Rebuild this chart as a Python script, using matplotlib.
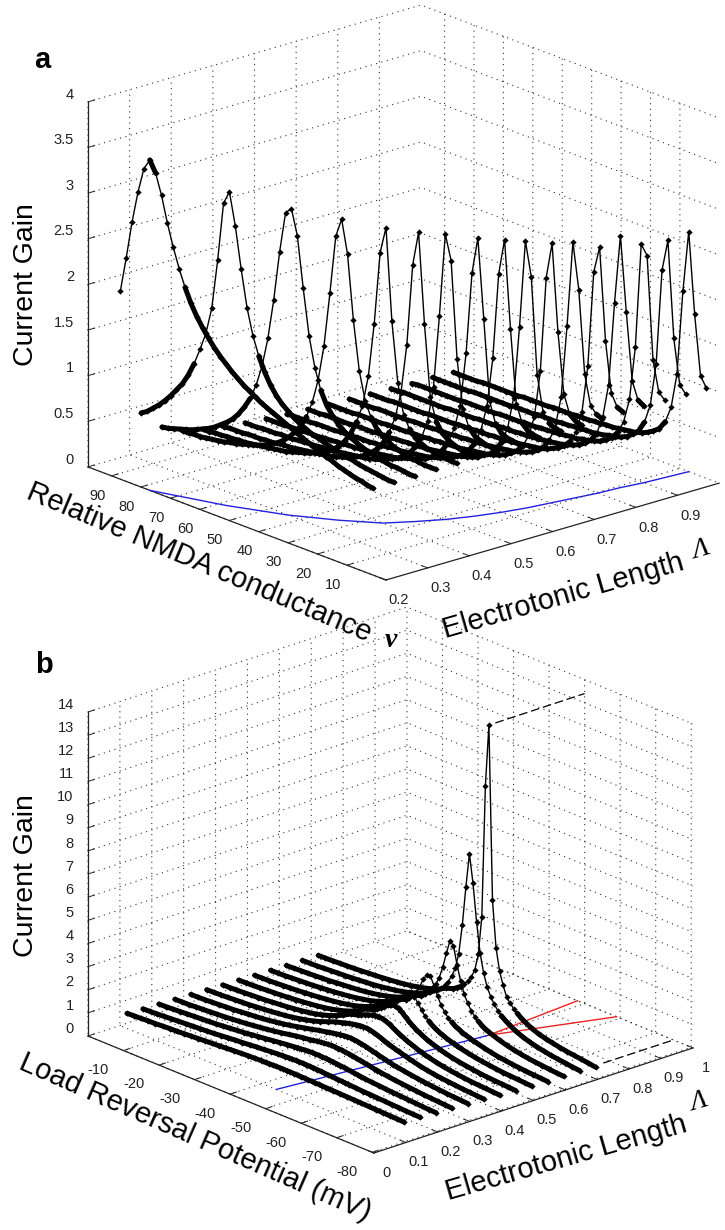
import numpy as np
import matplotlib
matplotlib.use('Agg')
import matplotlib.pyplot as plt
from mpl_toolkits.mplot3d import proj3d

plt.rcParams['font.family'] = ['Liberation Sans', 'DejaVu Sans']

W, H = 725, 1230

# panel a: gain against NMDA conductance, one row per electrotonic length
lambda_a = [0.2, 0.25, 0.3, 0.35, 0.4, 0.45, 0.5, 0.55, 0.6, 0.65, 0.7, 0.75, 0.8, 0.85, 0.9, 0.95, 1.0]
nu_a = [1, 3, 5, 7, 9, 11, 13, 15, 17, 19, 21, 23, 25, 27, 29, 31, 33, 35, 37, 39, 41, 43,
        45, 47, 49, 51, 53, 55, 57, 59, 61, 63, 65, 67, 69, 71, 73, 75, 77, 79, 81, 83, 85, 87]
gain_a = [
    [.95,.96,.98,.99,1.01,1.03,1.05,1.08,1.10,1.13,1.15,1.18,1.21,1.24,1.27,1.30,1.33,1.36,1.39,1.42,1.46,1.50,1.54,1.59,1.64,1.70,1.76,1.83,1.91,2.00,2.10,2.22,2.37,2.55,2.76,3.00,3.28,3.50,3.62,3.50,3.22,2.87,2.45,2.06],
    [.95,.95,.96,.97,.98,.99,1.00,1.02,1.03,1.05,1.06,1.08,1.10,1.12,1.14,1.17,1.20,1.24,1.29,1.34,1.41,1.50,1.62,1.77,1.97,2.25,2.65,3.10,3.45,3.30,2.65,2.10,1.80,1.60,1.42,1.27,1.15,1.06,.97,.89,.82,.76,.70,.66],
    [.95,.95,.96,.97,.97,.98,1.00,1.01,1.03,1.05,1.08,1.11,1.15,1.20,1.27,1.36,1.50,1.72,2.05,2.55,3.10,3.37,3.30,2.85,2.30,1.85,1.52,1.29,1.12,1.00,.90,.82,.76,.71,.66,.62,.59,.56,.53,.51,.49,.47,.45,.44],
    [.96,.96,.96,.97,.98,.99,1.01,1.03,1.06,1.10,1.16,1.26,1.42,1.72,2.25,2.95,3.31,3.10,2.45,1.85,1.45,1.18,1.00,.87,.78,.70,.64,.59,.55,.52,.49,.47,.45,.43,.41,.40,.38,.37,.36,.35,.34,.34,.33,.33],
    [.96,.96,.97,.98,.99,1.00,1.03,1.07,1.14,1.27,1.60,2.25,3.25,2.95,2.15,1.55,1.20,1.00,.85,.74,.66,.60,.55,.52,.49,.46,.44,.42,.40,.38,.37,.36,.35,.34,.33,.32,.31,.31,.30,.30,.29,.29,.28,.28],
    [.96,.96,.97,.98,1.00,1.03,1.08,1.18,1.42,2.20,3.18,2.80,1.90,1.35,1.05,.87,.73,.64,.57,.52,.48,.45,.42,.40,.38,.36,.35,.34,.33,.32,.31,.30,.29,.29,.28,.27,.27,.26,.26,.26,.25,.25,.25,.24],
    [.97,.97,.98,1.00,1.03,1.10,1.28,1.80,2.85,3.12,2.20,1.40,1.00,.80,.67,.58,.52,.47,.44,.41,.38,.36,.34,.33,.32,.31,.30,.29,.28,.27,.27,.26,.26,.25,.25,.24,.24,.24,.23,.23,.23,.22,.22,.22],
    [.97,.98,.99,1.02,1.10,1.32,2.20,3.06,2.65,1.75,1.15,.88,.70,.59,.52,.46,.42,.39,.37,.35,.33,.31,.30,.29,.28,.27,.26,.26,.25,.25,.24,.24,.23,.23,.22,.22,.22,.21,.21,.21,.20,.20,.20,.20],
    [.97,.98,1.00,1.06,1.25,2.05,3.00,2.60,1.65,1.10,.82,.65,.55,.48,.43,.39,.36,.34,.32,.30,.29,.28,.27,.26,.25,.25,.24,.23,.23,.22,.22,.22,.21,.21,.21,.20,.20,.20,.20,.19,.19,.19,.19,.18],
    [.98,.99,1.02,1.12,1.50,2.55,2.92,1.95,1.15,.80,.62,.51,.44,.40,.36,.33,.31,.29,.28,.27,.26,.25,.24,.23,.23,.22,.22,.21,.21,.20,.20,.20,.19,.19,.19,.19,.18,.18,.18,.18,.18,.17,.17,.17],
    [.98,1.00,1.05,1.25,1.90,2.85,2.45,1.40,.88,.64,.51,.43,.38,.34,.31,.29,.27,.26,.25,.24,.23,.22,.22,.21,.21,.20,.20,.19,.19,.19,.18,.18,.18,.18,.17,.17,.17,.17,.17,.16,.16,.16,.16,.16],
    [.98,1.01,1.08,1.40,2.30,2.80,1.85,1.05,.70,.53,.43,.37,.33,.30,.28,.26,.25,.24,.23,.22,.21,.21,.20,.20,.19,.19,.18,.18,.18,.17,.17,.17,.17,.16,.16,.16,.16,.16,.16,.15,.15,.15,.15,.15],
    [.99,1.02,1.15,1.70,2.70,2.40,1.35,.82,.58,.45,.38,.33,.30,.27,.25,.24,.23,.22,.21,.20,.20,.19,.19,.18,.18,.18,.17,.17,.17,.16,.16,.16,.16,.16,.15,.15,.15,.15,.15,.15,.14,.14,.14,.14],
    [.99,1.03,1.22,1.95,2.76,2.00,1.08,.70,.50,.40,.34,.30,.27,.25,.23,.22,.21,.20,.19,.19,.18,.18,.17,.17,.17,.16,.16,.16,.16,.15,.15,.15,.15,.15,.14,.14,.14,.14,.14,.14,.14,.14,.13,.13],
    [.99,1.05,1.38,2.50,2.60,1.45,.85,.58,.44,.36,.31,.27,.25,.23,.22,.20,.20,.19,.18,.18,.17,.17,.16,.16,.16,.15,.15,.15,.15,.14,.14,.14,.14,.14,.14,.13,.13,.13,.13,.13,.13,.13,.13,.12],
    [.99,1.07,1.55,2.60,2.25,1.20,.72,.51,.39,.33,.28,.25,.23,.22,.20,.19,.18,.18,.17,.17,.16,.16,.15,.15,.15,.15,.14,.14,.14,.14,.13,.13,.13,.13,.13,.13,.13,.12,.12,.12,.12,.12,.12,.12],
    [.99,1.10,1.75,2.63,1.95,1.02,.63,.45,.35,.30,.26,.23,.21,.20,.19,.18,.17,.17,.16,.16,.15,.15,.15,.14,.14,.14,.14,.13,.13,.13,.13,.13,.12,.12,.12,.12,.12,.12,.12,.11,.11,.11,.11,.11],
]
peak_nu_a = [77, 58, 44, 34, 26, 22, 18.5, 16, 14, 12.5, 11.5, 10.5, 9.5, 9, 8, 7.5, 7]

# panel b: gain against load reversal potential
lambda_b = [0.1, 0.15, 0.2, 0.25, 0.3, 0.35, 0.4, 0.45, 0.5, 0.55, 0.6, 0.65, 0.7]
v_b = [-2, -4, -6, -8, -10, -12, -14, -16, -18, -20, -22, -24, -26, -28, -30, -32, -34, -36, -38,
       -40, -41, -42, -43, -44, -45, -46, -47, -48, -49, -50, -51, -52, -53, -54, -55, -56, -57, -58, -59, -60,
       -62, -64, -66, -68, -70, -72, -74, -76, -78, -80]
gain_b = [
    [.65,.67,.68,.70,.71,.73,.75,.76,.78,.80,.82,.84,.86,.88,.90,.92,.94,.96,.97, .98,.98,.99,.99,1.0,1.0,1.0,1.0,1.0,1.0,.99,.99,.99,.98,.98,.97,.97,.96,.96,.95,.95, .94,.93,.92,.91,.90,.89,.88,.87,.86,.85],
    [.62,.63,.65,.67,.69,.71,.73,.75,.77,.79,.81,.84,.87,.90,.92,.95,.98,1.0,1.03, 1.05,1.06,1.07,1.08,1.08,1.09,1.09,1.09,1.09,1.08,1.08,1.07,1.06,1.05,1.04,1.03,1.02,1.01,1.0,.99,.98, .96,.94,.93,.91,.90,.88,.87,.85,.84,.83],
    [.60,.61,.63,.65,.67,.69,.71,.73,.75,.78,.81,.84,.87,.91,.95,.99,1.03,1.07,1.11, 1.14,1.16,1.17,1.19,1.20,1.21,1.21,1.21,1.20,1.20,1.19,1.17,1.16,1.14,1.13,1.11,1.09,1.07,1.05,1.03,1.01, .98,.96,.93,.91,.89,.87,.85,.83,.81,.80],
    [.58,.59,.60,.62,.64,.66,.68,.70,.73,.76,.79,.83,.87,.91,.96,1.01,1.07,1.13,1.18, 1.22,1.25,1.28,1.30,1.32,1.34,1.35,1.35,1.34,1.33,1.31,1.29,1.27,1.24,1.21,1.19,1.16,1.13,1.10,1.08,1.05, 1.01,.97,.94,.91,.88,.85,.83,.81,.79,.77],
    [.56,.57,.58,.60,.62,.64,.66,.69,.72,.75,.78,.82,.87,.92,.98,1.05,1.12,1.19,1.27, 1.33,1.37,1.40,1.43,1.46,1.48,1.50,1.50,1.49,1.47,1.44,1.41,1.37,1.33,1.29,1.25,1.21,1.17,1.14,1.10,1.07, 1.02,.97,.93,.89,.86,.83,.80,.78,.76,.74],
    [.54,.55,.56,.58,.60,.62,.64,.67,.70,.73,.77,.81,.86,.92,.99,1.07,1.17,1.29,1.41, 1.50,1.55,1.59,1.63,1.66,1.69,1.70,1.70,1.68,1.64,1.59,1.53,1.47,1.41,1.36,1.31,1.26,1.22,1.17,1.13,1.09, 1.01,.95,.90,.86,.83,.80,.77,.75,.73,.71],
    [.52,.53,.54,.56,.58,.60,.62,.65,.68,.71,.75,.79,.84,.90,.98,1.08,1.20,1.35,1.52, 1.60,1.67,1.74,1.80,1.85,1.89,1.90,1.88,1.83,1.76,1.67,1.58,1.50,1.42,1.35,1.29,1.23,1.17,1.12,1.07,1.03, .95,.89,.84,.80,.76,.73,.71,.69,.67,.65],
    [.50,.51,.52,.54,.56,.58,.60,.63,.66,.69,.73,.77,.82,.88,.96,1.05,1.17,1.32,1.52, 1.60,1.70,1.81,1.93,2.05,2.13,2.15,2.10,1.99,1.85,1.72,1.60,1.50,1.41,1.33,1.26,1.20,1.14,1.09,1.04,1.0, .92,.86,.81,.77,.73,.70,.68,.66,.64,.62],
    [.48,.49,.50,.52,.54,.56,.58,.61,.64,.67,.71,.75,.80,.86,.93,1.02,1.14,1.29,1.50, 1.60,1.72,1.86,2.04,2.25,2.43,2.50,2.38,2.15,1.92,1.73,1.58,1.46,1.36,1.28,1.21,1.15,1.10,1.05,1.0,.96, .89,.83,.78,.74,.70,.67,.65,.63,.61,.59],
    [.47,.48,.49,.51,.53,.55,.57,.60,.63,.66,.70,.74,.79,.85,.92,1.01,1.13,1.28,1.48, 1.59,1.72,1.88,2.10,2.40,2.78,3.05,3.05,2.70,2.30,1.98,1.74,1.56,1.43,1.32,1.24,1.17,1.11,1.06,1.01,.97, .89,.82,.76,.72,.68,.65,.62,.60,.58,.56],
    [.45,.46,.48,.49,.51,.53,.55,.58,.61,.64,.67,.71,.76,.82,.89,.98,1.09,1.23,1.42, 1.53,1.65,1.80,2.0,2.27,2.63,3.15,3.80,4.40,4.25,3.50,2.85,2.37,2.02,1.76,1.57,1.43,1.31,1.22,1.15,1.09, .98,.89,.82,.76,.71,.67,.64,.61,.58,.56],
    [.44,.45,.46,.48,.50,.52,.54,.56,.59,.62,.65,.69,.74,.79,.86,.94,1.04,1.17,1.34, 1.55,1.7,1.88,2.1,2.4,2.8,3.5,4.8,6.5,8.0,6.8,5.2,3.9,3.1,2.55,2.2,1.93,1.73,1.57,1.44,1.34, 1.16,1.03,.93,.85,.79,.73,.69,.65,.61,.58],
    [.43,.44,.45,.47,.48,.50,.52,.55,.57,.60,.63,.67,.71,.76,.83,.90,1.0,1.12,1.28, 1.38,1.49,1.60,1.76,1.95,2.2,2.55,3.3,5.0,10.7,13.4,5.9,3.9,2.95,2.4,1.95,1.75,1.58,1.44,1.32,1.22, 1.05,.93,.85,.78,.72,.67,.63,.59,.55,.50],
]
peak_v_b = [-44, -44.5, -45, -45.5, -46, -46.5, -47, -47.5, -48, -48.5, -49, -49.5, -50]
red_lambda = [0.7, 1.0]
red_v_1 = [-50, -48]
red_v_2 = [-50, -59]
dash_lambda_top = [0.72, 1.0]
dash_v_top = [-50, -50]
dash_gain_top = [13.4, 13.4]
dash_lambda_floor = [0.78, 1.0]
dash_v_floor = [-75, -75]

xticks_a = [.2, .3, .4, .5, .6, .7, .8, .9]
xlabels_a = ['0.2', '0.3', '0.4', '0.5', '0.6', '0.7', '0.8', '0.9']
yticks_a = [10, 20, 30, 40, 50, 60, 70, 80, 90]
ylabels_a = ['10', '20', '30', '40', '50', '60', '70', '80', '90']
zticks_a = [0, .5, 1, 1.5, 2, 2.5, 3, 3.5, 4]
zlabels_a = ['0', '0.5', '1', '1.5', '2', '2.5', '3', '3.5', '4']
xticks_b = [0, .1, .2, .3, .4, .5, .6, .7, .8, .9, 1]
xlabels_b = ['0', '0.1', '0.2', '0.3', '0.4', '0.5', '0.6', '0.7', '0.8', '0.9', '1']
yticks_b = [-10, -20, -30, -40, -50, -60, -70, -80]
ylabels_b = ['-10', '-20', '-30', '-40', '-50', '-60', '-70', '-80']
zticks_b = list(range(15))
zlabels_b = ['0', '1', '2', '3', '4', '5', '6', '7', '8', '9', '10', '11', '12', '13', '14']


def px_text(x, y, s, **kw):
    # position given in picture pixels, y downwards
    return fig.text(x / W, 1 - y / H, s, ha='center', va='center', rotation_mode='anchor', **kw)


def style_axes(ax):
    ax.set_facecolor('none')
    ax.computed_zorder = False
    for axis in (ax.xaxis, ax.yaxis, ax.zaxis):
        axis.set_pane_color((1, 1, 1, 0))
        axis.pane.set_edgecolor('none')
        axis.line.set_color('#222222')
        axis.line.set_linewidth(0.9)
        axis._axinfo['grid'].update(color='#333333', linestyle=(0, (1, 4)), linewidth=0.8)
        axis._axinfo['tick'].update(inward_factor=0.0, outward_factor=0.25)
        axis._axinfo['tick']['linewidth'] = {True: 0.7, False: 0.5}
    ax.tick_params(labelsize=10.5, colors='#222222')
    ax.tick_params(axis='z', pad=-2)
    plt.setp(ax.xaxis.get_ticklabels(), va='center')
    plt.setp(ax.yaxis.get_ticklabels(), va='center')
    plt.setp(ax.zaxis.get_ticklabels(), ha='right', va='bottom')


def fit_box(ax, point_a, point_b, target_a, target_b):
    # scale and move the square axes so two box corners land on the picture's corners
    ax.set_position([0.1, 0.1, 600 / W, 600 / H])
    ax.apply_aspect()
    M = ax.get_proj()
    got = []
    for p in (point_a, point_b):
        x2, y2, _ = proj3d.proj_transform(p[0], p[1], p[2], M)
        got.append(ax.transData.transform((x2, y2)))
    p0 = np.array([0.1 * W, 0.1 * H])
    u_a = (got[0] - p0) / 600
    u_b = (got[1] - p0) / 600
    t_a = np.array([target_a[0], H - target_a[1]], dtype=float)
    t_b = np.array([target_b[0], H - target_b[1]], dtype=float)
    s = np.linalg.norm(t_b - t_a) / np.linalg.norm(u_b - u_a)
    pos = t_a - s * u_a
    ax.set_position([pos[0] / W, pos[1] / H, s / W, s / H])


def draw_curves(ax, lams, grid, table, slope_limit):
    grid = np.array(grid, dtype=float)
    for lam, row in zip(lams, table):
        z = np.array(row, dtype=float)
        xs = np.full(len(grid), lam)
        ax.plot(xs, grid, z, color='k', lw=1.0, marker='D', ms=3.2, mew=0, zorder=3)
        flat = np.abs(np.gradient(z, grid)) < slope_limit
        ax.plot(xs, grid, np.where(flat, z, np.nan), color='k', lw=3.6, zorder=3,
                solid_capstyle='round')


fig = plt.figure(figsize=(W / 100, H / 100), dpi=100)

# panel a
ax1 = fig.add_axes([0.1, 0.1, 0.5, 0.5], projection='3d', proj_type='ortho')
ax1.set_xlim(0.2, 1.0)
ax1.set_ylim(-3.3, 98)
ax1.set_zlim(0, 4)
ax1.set_box_aspect((442.6, 452.4, 387))
ax1.view_init(elev=19.4, azim=-131.2)
ax1.set_xticks(xticks_a, xlabels_a)
ax1.set_yticks(yticks_a, ylabels_a)
ax1.set_zticks(zticks_a, zlabels_a)
style_axes(ax1)
fit_box(ax1, (0.2, -3.3, 0), (1.0, -3.3, 0), (386, 580), (719, 483))
ax1.plot(lambda_a, peak_nu_a, np.zeros(len(lambda_a)), color='#2222dd', lw=1.0, zorder=2)
draw_curves(ax1, lambda_a, nu_a, gain_a, 0.09)

# panel b
ax2 = fig.add_axes([0.1, 0.1, 0.5, 0.5], projection='3d', proj_type='ortho')
ax2.set_xlim(0, 1)
ax2.set_ylim(-80.5, 0)
ax2.set_zlim(0, 14)
ax2.set_box_aspect((428.6, 428.3, 348.3))
ax2.view_init(elev=21.53, azim=-131.9)
ax2.set_xticks(xticks_b, xlabels_b)
ax2.set_yticks(yticks_b, ylabels_b)
ax2.set_zticks(zticks_b, zlabels_b)
style_axes(ax2)
plt.setp(ax2.yaxis.get_ticklabels(), ha='right')
fit_box(ax2, (0, -80.5, 0), (1, -80.5, 0), (374, 1153), (693, 1048))
ax2.plot(lambda_b, peak_v_b, np.zeros(len(lambda_b)), color='#2222dd', lw=1.0, zorder=2)
ax2.plot(red_lambda, red_v_1, [0, 0], color='#ee2222', lw=1.0, zorder=2)
ax2.plot(red_lambda, red_v_2, [0, 0], color='#ee2222', lw=1.0, zorder=2)
ax2.plot(dash_lambda_top, dash_v_top, dash_gain_top, color='k', lw=0.9, ls=(0, (7, 3)), zorder=2)
ax2.plot(dash_lambda_floor, dash_v_floor, [0, 0], color='k', lw=0.9, ls=(0, (7, 3)), zorder=2)
draw_curves(ax2, lambda_b, v_b, gain_b, 0.15)

# axis titles and panel letters
px_text(26, 285, 'Current Gain', fontsize=20.5, rotation=90)
px_text(199, 563, 'Relative NMDA conductance', fontsize=21, rotation=-22.8)
px_text(391, 640, 'ν', fontsize=20, family='Liberation Serif', style='italic', weight='bold')
px_text(563, 596, 'Electrotonic Length', fontsize=21, rotation=16)
px_text(700, 550, 'Λ', fontsize=20, family='Liberation Serif', style='italic', rotation=16)
px_text(26, 876, 'Current Gain', fontsize=20.5, rotation=90)
px_text(195, 1137, 'Load Reversal Potential (mV)', fontsize=21, rotation=-23.6)
px_text(566, 1158, 'Electrotonic Length', fontsize=21, rotation=16)
px_text(698, 1102, 'Λ', fontsize=20, family='Liberation Serif', style='italic', rotation=16)
px_text(42, 60, 'a', fontsize=21, weight='bold')
px_text(44, 665, 'b', fontsize=21, weight='bold')

fig.savefig('out.png', dpi=100)
